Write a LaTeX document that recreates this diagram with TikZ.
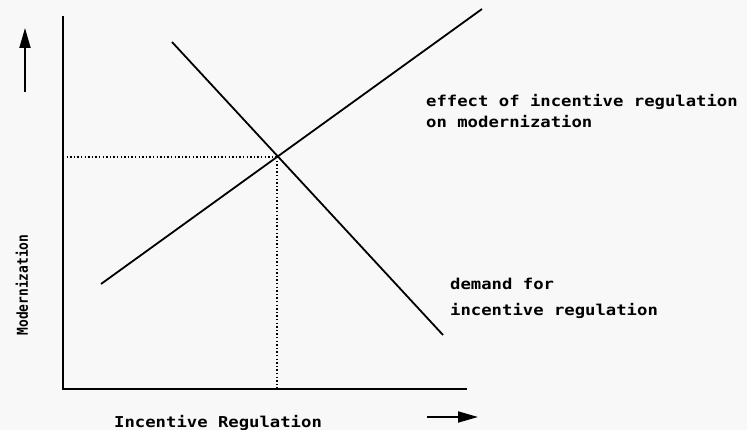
\documentclass[tikz,border=0pt]{standalone}
\usepackage{fontspec}
\newfontfamily\plotfont{DejaVu Sans Mono}[FakeStretch=1.15]
\newfontfamily\plotfontv{DejaVu Sans Mono}[FakeStretch=0.86]
\usetikzlibrary{arrows.meta}
\definecolor{bg}{RGB}{248,248,248}
\begin{document}
\begin{tikzpicture}[x=1pt,y=-1pt,
  axisline/.style={line width=2pt,line cap=rect},
  curve/.style={line width=1.8pt},
  guide/.style={line width=1.4pt,dash pattern=on 1.4pt off 2.2pt},
  dirarrow/.style={line width=1.8pt,-{Triangle[length=20pt,width=11pt]}},
  lbl/.style={inner sep=0pt,font=\plotfont\bfseries\fontsize{15}{18}\selectfont,anchor=base west},
  vlbl/.style={inner sep=0pt,font=\plotfontv\bfseries\fontsize{15}{18}\selectfont,rotate=90}]
\fill[bg] (0,0) rectangle (747,430);
\useasboundingbox (0,0) rectangle (747,430);
% coordinates
\coordinate (O) at (63,389);
\coordinate (ytop) at (63,17);
\coordinate (xend) at (466,389);
\coordinate (E) at (277,157);
\coordinate (Ey) at (63,157);
\coordinate (Ex) at (277,389);
\coordinate (s1) at (101,284);
\coordinate (s2) at (482,9);
\coordinate (d1) at (172,42);
\coordinate (d2) at (443,335);
\coordinate (ya1) at (25,92);
\coordinate (ya2) at (25,28);
\coordinate (xa1) at (427,417);
\coordinate (xa2) at (478,417);
% axes
\draw[axisline] (ytop) -- (O) -- (xend);
% guides
\draw[guide] (Ey) -- (E);
\draw[guide] (E) -- (Ex);
% curves
\draw[curve] (s1) -- (s2);
\draw[curve] (d1) -- (d2);
% direction arrows
\draw[dirarrow] (ya1) -- (ya2);
\draw[dirarrow] (xa1) -- (xa2);
% labels
\node[vlbl] (ylab) at (22,285) {Modernization};
\node[lbl] (xlab) at (114,427) {Incentive Regulation};
\node[lbl] (eff1) at (426,107) {effect of incentive regulation};
\node[lbl] (eff2) at (426,128) {on modernization};
\node[lbl] (dem1) at (450,290) {demand for};
\node[lbl] (dem2) at (450,316) {incentive regulation};
\end{tikzpicture}
\end{document}
